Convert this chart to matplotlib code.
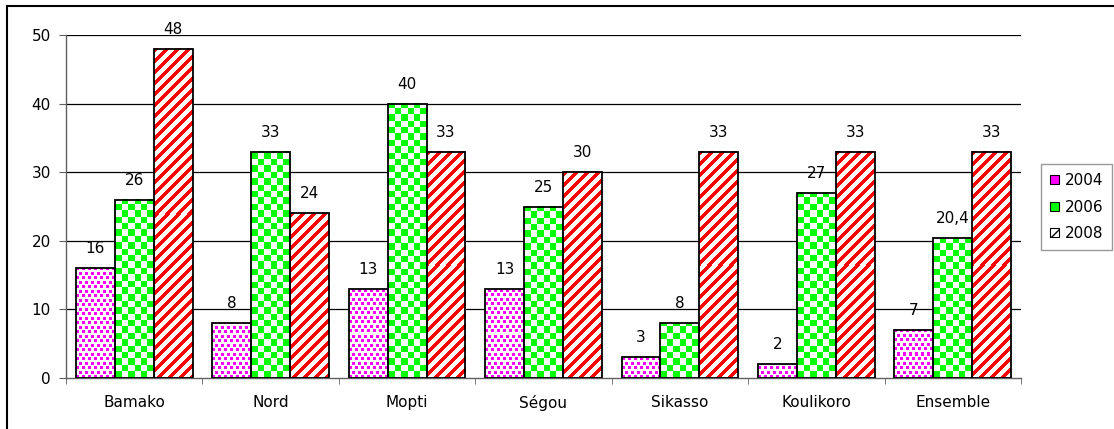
import numpy as np
import matplotlib
matplotlib.use('Agg')
import matplotlib.pyplot as plt
from matplotlib.patches import Rectangle, Patch

plt.rcParams['font.family'] = ['DejaVu Sans']
plt.rcParams['font.size'] = 11

regions = ['Bamako', 'Nord', 'Mopti', 'Ségou', 'Sikasso', 'Koulikoro', 'Ensemble']
years = ['2004', '2006', '2008']
v2004 = [16, 8, 13, 13, 3, 2, 7]
v2006 = [26, 33, 40, 25, 8, 27, 20.4]
v2008 = [48, 24, 33, 30, 33, 33, 33]
lab2004 = ['16', '8', '13', '13', '3', '2', '7']
lab2006 = ['26', '33', '40', '25', '8', '27', '20,4']
lab2008 = ['48', '24', '33', '30', '33', '33', '33']

W, H, DPI = 1114, 429, 100
fig = plt.figure(figsize=(W / DPI, H / DPI), dpi=DPI)
ax_l, ax_b, ax_w, ax_h = 66, 51, 955, 343
ax = fig.add_axes([ax_l / W, ax_b / H, ax_w / W, ax_h / H])

xmin, xmax, ymax = -0.5, len(regions) - 0.5, 50
sx = ax_w / (xmax - xmin)   # pixels per x unit
sy = ax_h / ymax            # pixels per y unit
bw = 0.285


def pattern(kind, hpx, wpx):
    r, c = np.mgrid[0:hpx, 0:wpx]
    rb = hpx - 1 - r  # count rows from the base of the bar
    img = np.ones((hpx, wpx, 3))
    if kind == 'dots':
        # staggered 3x3 px dots
        rr, cc = rb % 9, c % 12
        m = ((rr < 3) & ((cc < 3) | ((cc >= 6) & (cc < 9)))) | \
            (((rr >= 4) & (rr < 7)) & (((cc >= 3) & (cc < 6)) | (cc >= 9)))
        img[m] = (1, 0, 1)
    elif kind == 'checker':
        m = ((np.floor(c / 6.4) + np.floor(rb / 6.4)) % 2) == 0
        img[m] = (0, 1, 0)
    else:
        m = ((c + r) % 11) < 5
        img[m] = (1, 0, 0)
    return img


def patterned_bar(x0, h, kind):
    wpx = max(int(round(bw * sx)), 1)
    hpx = max(int(round(h * sy)), 1)
    ax.imshow(pattern(kind, hpx, wpx), extent=(x0, x0 + bw, 0, h), aspect='auto',
              interpolation='nearest', zorder=2)
    ax.add_patch(Rectangle((x0, 0), bw, h, fill=False, ec='black', lw=1.3, zorder=3))


series = [(v2004, lab2004, 'dots'), (v2006, lab2006, 'checker'), (v2008, lab2008, 'stripes')]
for k, (vals, labs, kind) in enumerate(series):
    for i, (v, lb) in enumerate(zip(vals, labs)):
        xc = i + (k - 1) * bw
        patterned_bar(xc - bw / 2, v, kind)
        ax.annotate(lb, (xc, v), xytext=(0, 14), textcoords='offset points',
                    ha='center', va='center', fontsize=11, zorder=4, annotation_clip=False)

ax.set_xlim(xmin, xmax)
ax.set_ylim(0, ymax)
ax.set_yticks(range(0, 51, 10))
for y in range(10, 51, 10):
    ax.axhline(y, color='black', lw=0.9, zorder=1)

ax.set_xticks(range(len(regions)))
ax.set_xticklabels(regions)
ax.set_xticks(np.arange(xmin, xmax + 0.01, 1), minor=True)
ax.tick_params(axis='x', which='major', length=0, pad=12)
ax.tick_params(axis='x', which='minor', length=4, color='#606060', direction='out')
ax.tick_params(axis='y', length=5, color='#606060', pad=6)
for s in ['top', 'right']:
    ax.spines[s].set_visible(False)
for s in ['left', 'bottom']:
    ax.spines[s].set_color('#606060')
    ax.spines[s].set_linewidth(1)

handles = [Patch(fc='#ff00ff', ec='black', lw=0.8),
           Patch(fc='#00ff00', ec='black', lw=0.8),
           Patch(fc='white', ec='black', lw=0.8, hatch='///')]
leg = fig.legend(handles, years, loc='upper left', bbox_to_anchor=(1041 / W, 1 - 164 / H),
                 frameon=True, fancybox=False, edgecolor='#808080', fontsize=11,
                 handlelength=0.55, handleheight=0.55, handletextpad=0.4,
                 labelspacing=0.75, borderpad=0.6, borderaxespad=0)
leg.get_frame().set_linewidth(1)

# outer frame, only the top and left edges fall inside the image
fig.patches.append(Rectangle((7 / W, -0.2), 1.5, 1.2 - 6 / H, transform=fig.transFigure,
                             fill=False, ec='black', lw=1.5))

fig.savefig('out.png', dpi=DPI)
